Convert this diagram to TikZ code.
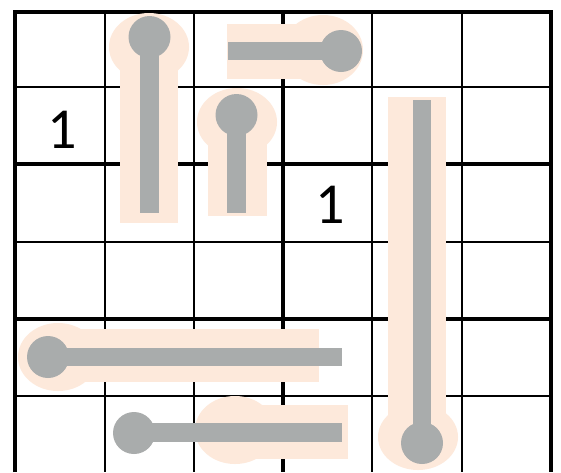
\documentclass[tikz,border=0pt]{standalone}
\usepackage{fontspec}
\setmainfont{Carlito}
\usepackage{tikz}
\usetikzlibrary{positioning}
\usepackage{xcolor}
\definecolor{thermogray}{HTML}{A9ACAC}
\definecolor{thermoglow}{HTML}{FDE9DB}
\definecolor{gridblack}{HTML}{000000}

\begin{document}
\begin{tikzpicture}[
    x=0.5pt, y=-0.5pt,
    thinline/.style={draw=gridblack, line width=1pt},
    boxline/.style={draw=gridblack, line width=1.6pt},
    glow/.style={fill=thermoglow},
    tube/.style={fill=thermogray},
    clue/.style={font=\fontsize{29}{29}\selectfont, inner sep=0pt}
]
    \fill[white] (0,0) rectangle (561,472);
    \useasboundingbox (0,0) rectangle (561,472);

    \foreach \gx in {105,194,372,462} \draw[thinline] (\gx,12) -- (\gx,472);
    \foreach \gy in {87,242,396} \draw[thinline] (15,\gy) -- (551,\gy);
    \foreach \gy in {164,319} \draw[boxline] (15,\gy) -- (551,\gy);
    \draw[boxline] (283,12) -- (283,472);
    \draw[line width=2pt] (15,472) -- (15,12) -- (551,12) -- (551,472);

    \fill[glow] (149,47) ellipse [x radius=40, y radius=34];
    \fill[glow] (120,47) rectangle (178,223);
    \fill[glow] (323,50) ellipse [x radius=40, y radius=35];
    \fill[glow] (227,24) rectangle (323,79);
    \fill[glow] (237,122) ellipse [x radius=40, y radius=34];
    \fill[glow] (208,122) rectangle (267,216);
    \fill[glow] (418,437) ellipse [x radius=40, y radius=33];
    \fill[glow] (388,97) rectangle (446,437);
    \fill[glow] (58,357) ellipse [x radius=40, y radius=34];
    \fill[glow] (58,329) rectangle (319,382);
    \fill[glow] (235,430) ellipse [x radius=40, y radius=34];
    \fill[glow] (235,405) rectangle (348,459);

    \fill[tube] (149.5,37) circle [radius=21];
    \fill[tube] (140,37) rectangle (159,213);
    \fill[tube] (341,51) circle [radius=21];
    \fill[tube] (228,42) rectangle (341,60);
    \fill[tube] (236.5,115) circle [radius=21];
    \fill[tube] (227,115) rectangle (246,213);
    \fill[tube] (422,443) circle [radius=21];
    \fill[tube] (413,100) rectangle (431,443);
    \fill[tube] (48,357) circle [radius=21];
    \fill[tube] (48,348) rectangle (342,366);
    \fill[tube] (134,433) circle [radius=21];
    \fill[tube] (134,423) rectangle (342,442);

    \node[clue] (cluea) at (62,130) {1};
    \node[clue] (clueb) at (330,205) {1};
\end{tikzpicture}
\end{document}
